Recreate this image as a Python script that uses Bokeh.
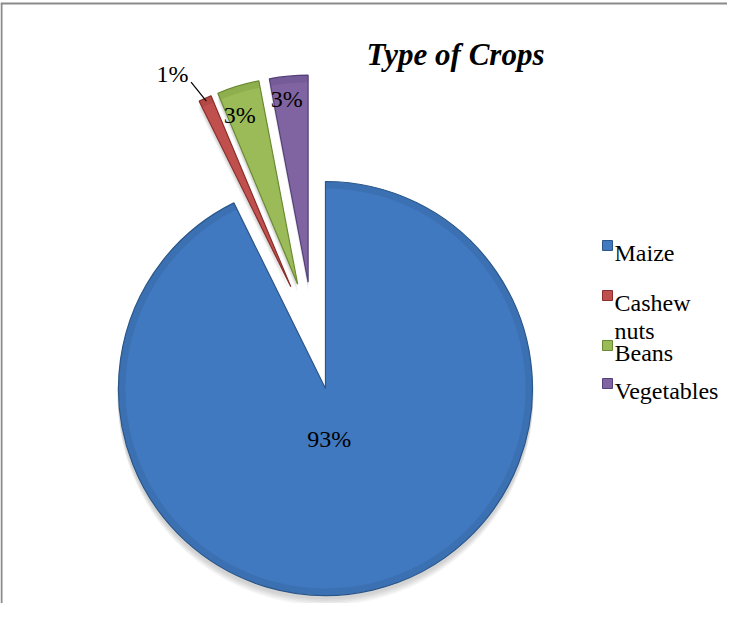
import math
from bokeh.plotting import figure
from bokeh.models import Range1d
from bokeh.embed import file_html
from bokeh.resources import INLINE
from bokeh.core.properties import value

# ---- data ----
categories = ["Maize", "Cashew nuts", "Beans", "Vegetables"]
shares = [92.7, 1.0, 3.3, 3.0]
title_text = "Type of Crops"

# ---- style ----
colors = ["#4179C0", "#C0504D", "#9BBB59", "#8064A2"]
edge_colors = ["#2A5689", "#8A2E2B", "#6A8A32", "#54407A"]
FONT = "Liberation Serif"

W, H = 727, 603
# page pixel -> data helpers (figure sits at 8,8 on the page)
def X(ix):
    return ix - 8
def Y(iy):
    return 611 - iy

p = figure(width=W, height=H, x_range=Range1d(0, W), y_range=Range1d(0, H),
           output_backend="svg", toolbar_location=None, min_border=0)
p.axis.visible = False
p.grid.visible = False
p.outline_line_color = None
p.background_fill_color = "white"
p.border_fill_color = "white"

# chart area border (left and top edges visible)
p.line([X(9), X(9)], [Y(11), Y(625)], line_color="#8A8A8A", line_width=2)
p.line([X(8), X(760)], [Y(11), Y(11)], line_color="#8A8A8A", line_width=2)

# ---- pie geometry ----
cx, cy = X(320.7), Y(343.4)
R = 207
explode = 54

total = sum(shares)
cum = 0.0
slices = []
for s in shares:
    c0 = cum / total * 360.0
    cum += s
    c1 = cum / total * 360.0
    mid = math.radians(90 - (c0 + c1) / 2)
    vx = cx + explode * math.cos(mid)
    vy = cy + explode * math.sin(mid)
    slices.append((math.radians(90 - c1), math.radians(90 - c0), mid, vx, vy))

# soft shadow beneath
for k in range(5):
    for (a0, a1, mid, vx, vy) in slices:
        p.wedge(x=vx, y=vy - 3 - k * 1.5, radius=R + 1, start_angle=a0, end_angle=a1,
                fill_color="#000000", fill_alpha=0.035, line_color=None)

for i, (a0, a1, mid, vx, vy) in enumerate(slices):
    p.wedge(x=vx, y=vy, radius=R, start_angle=a0, end_angle=a1,
            fill_color=colors[i], line_color=edge_colors[i], line_width=1.2)
    # bevel rim
    p.annular_wedge(x=vx, y=vy, inner_radius=R - 7, outer_radius=R - 0.5,
                    start_angle=a0, end_angle=a1,
                    fill_color=edge_colors[i], fill_alpha=0.25, line_color=None)

# ---- data labels ----
label_frac = [0.25, 1.17, 0.87, 0.89]
label_nudge = [(-8, 0), (-18, -8), (-6, -3), (-4, 0)]
for i, (a0, a1, mid, vx, vy) in enumerate(slices):
    pct = "%d%%" % round(shares[i] / total * 100)
    lx = vx + label_frac[i] * R * math.cos(mid) + label_nudge[i][0]
    ly = vy + label_frac[i] * R * math.sin(mid) + label_nudge[i][1]
    p.text(x=[lx], y=[ly], text=[pct], text_font=value(FONT), text_font_size="24px",
           text_color="black", text_align="center", text_baseline="middle")
    if label_frac[i] > 1:
        x0 = vx + 0.985 * R * math.cos(mid)
        y0 = vy + 0.985 * R * math.sin(mid)
        x1 = vx + 1.10 * R * math.cos(mid + math.radians(1.5))
        y1 = vy + 1.10 * R * math.sin(mid + math.radians(1.5))
        p.line([x0, x1], [y0, y1], line_color="black", line_width=1.2)

# ---- title ----
p.text(x=[X(463)], y=[Y(61.5)], text=[title_text], text_font=value(FONT),
       text_font_size="31px", text_font_style="bold italic", text_color="black",
       text_align="center", text_baseline="alphabetic")

# ---- legend ----
legend_baselines = [260, 310, 360, 398]
line_step = 28
for i, name in enumerate(categories):
    b = legend_baselines[i]
    p.rect(x=[X(615)], y=[Y(b - 7)], width=10, height=10, fill_color=colors[i],
           line_color=edge_colors[i], line_width=1)
    for j, part in enumerate(name.split(" ")):
        p.text(x=[X(622)], y=[Y(b + j * line_step)], text=[part], text_font=value(FONT),
               text_font_size="24px", text_color="black", text_align="left",
               text_baseline="alphabetic")

open("out.html", "w").write(file_html(p, INLINE))
